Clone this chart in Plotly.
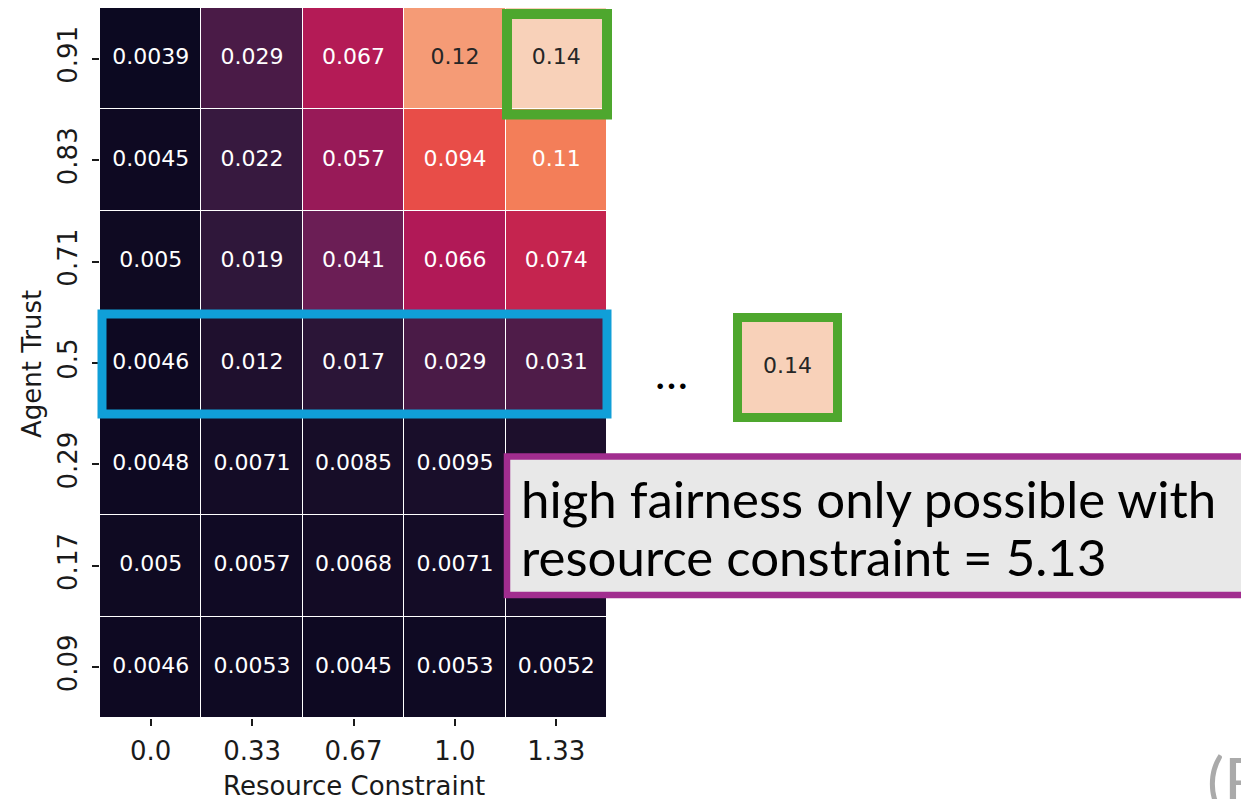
import plotly.graph_objects as go

# ---------------- data ----------------
resource_labels = ["0.0", "0.33", "0.67", "1.0", "1.33"]
trust_labels = ["0.09", "0.17", "0.29", "0.5", "0.71", "0.83", "0.91"]  # bottom -> top
fairness = [
    [0.0046, 0.0053, 0.0045, 0.0053, 0.0052],  # 0.09
    [0.005, 0.0057, 0.0068, 0.0071, 0.0075],   # 0.17
    [0.0048, 0.0071, 0.0085, 0.0095, 0.011],   # 0.29
    [0.0046, 0.012, 0.017, 0.029, 0.031],      # 0.5
    [0.005, 0.019, 0.041, 0.066, 0.074],       # 0.71
    [0.0045, 0.022, 0.057, 0.094, 0.11],       # 0.83
    [0.0039, 0.029, 0.067, 0.12, 0.14],        # 0.91
]
extra_resource = ["5.13"]
extra_trust = ["0.5"]
extra_fairness = [[0.14]]
note_lines = ["high fairness only possible with", "resource constraint = 5.13"]

# ---------------- styling ----------------
W, H = 1249, 799
OFF = 8  # page body margin


def X(px):
    return (px - OFF) / W


def Y(py):
    return 1 - (py - OFF) / H


rocket = [
    [0.0, "#03051a"],
    [1 / 7, "#35193e"],
    [2 / 7, "#701f57"],
    [3 / 7, "#ad1759"],
    [4 / 7, "#e13342"],
    [5 / 7, "#f37651"],
    [6 / 7, "#f6b48f"],
    [1.0, "#faebdd"],
]
ZMIN, ZMAX = 0.0, 0.15
tick_font = dict(family="DejaVu Sans", size=26, color="#1a1a1a")
cell_size = 22

fig = go.Figure()

fig.add_trace(go.Heatmap(
    x=resource_labels, y=trust_labels, z=fairness,
    colorscale=rocket, zmin=ZMIN, zmax=ZMAX, showscale=False,
    xgap=1, ygap=1, hoverinfo="skip",
))

# cell annotations
tx, ty, tt, tc = [], [], [], []
for i, row in enumerate(fairness):
    for j, v in enumerate(row):
        tx.append(resource_labels[j])
        ty.append(trust_labels[i])
        tt.append(f"{v:.2g}")
        tc.append("#262626" if v >= 0.115 else "white")
fig.add_trace(go.Scatter(
    x=tx, y=ty, text=tt, mode="text",
    textfont=dict(family="DejaVu Sans", size=cell_size, color=tc),
    hoverinfo="skip", showlegend=False,
))

# extra cell (resource constraint 5.13)
fig.add_trace(go.Heatmap(
    x=extra_resource, y=extra_trust, z=extra_fairness,
    colorscale=rocket, zmin=ZMIN, zmax=ZMAX, showscale=False,
    xaxis="x2", yaxis="y2", hoverinfo="skip",
))
fig.add_trace(go.Scatter(
    x=extra_resource, y=extra_trust, text=[f"{extra_fairness[0][0]:.2g}"],
    mode="text", textfont=dict(family="DejaVu Sans", size=cell_size, color="#262626"),
    xaxis="x2", yaxis="y2", hoverinfo="skip", showlegend=False,
))

fig.update_layout(
    width=W, height=H,
    margin=dict(l=0, r=0, t=0, b=0),
    paper_bgcolor="white", plot_bgcolor="white",
    showlegend=False,
    xaxis=dict(
        domain=[X(100), X(607)], anchor="y",
        type="category", range=[-0.5, 4.5],
        showgrid=False, zeroline=False, showline=False,
        ticks="outside", ticklen=7, tickwidth=1.5, tickcolor="#1a1a1a",
        tickfont=tick_font, automargin=False, ticklabelstandoff=3,
    ),
    yaxis=dict(
        domain=[Y(718), Y(8)], anchor="x",
        type="category", range=[-0.5, 6.5],
        showgrid=False, zeroline=False, showline=False,
        ticks="outside", ticklen=7, tickwidth=1.5, tickcolor="#1a1a1a",
        tickfont=tick_font, tickangle=-90, automargin=False, ticklabelstandoff=5,
    ),
    xaxis2=dict(domain=[X(737.5), X(837.5)], anchor="y2", visible=False,
                type="category", range=[-0.5, 0.5]),
    yaxis2=dict(domain=[Y(417.5), Y(317.5)], anchor="x2", visible=False,
                type="category", range=[-0.5, 0.5]),
)

shapes = [
    # blue row highlight
    dict(type="rect", xref="paper", yref="paper",
         x0=X(102), x1=X(607), y0=Y(414), y1=Y(314),
         line=dict(color="#109fd8", width=9), layer="above"),
    # green top-right highlight
    dict(type="rect", xref="paper", yref="paper",
         x0=X(507), x1=X(607), y0=Y(114.5), y1=Y(14),
         line=dict(color="#4ea72e", width=10), layer="above"),
    # green extra cell border
    dict(type="rect", xref="paper", yref="paper",
         x0=X(737.5), x1=X(837.5), y0=Y(417.5), y1=Y(317.5),
         line=dict(color="#4ea72e", width=9), layer="above"),
    # purple text box
    dict(type="rect", xref="paper", yref="paper",
         x0=X(507), x1=X(1246), y0=Y(595), y1=Y(456.5),
         line=dict(color="#a12d8f", width=6.5), fillcolor="#e8e8e8", layer="above"),
]
fig.update_layout(shapes=shapes)

note_font = dict(family="Lato", size=51, color="black")
annotations = [
    dict(text="Resource Constraint", xref="paper", yref="paper",
         x=X(353.5), y=Y(786), xanchor="center", yanchor="middle",
         showarrow=False, font=tick_font),
    dict(text="Agent Trust", xref="paper", yref="paper",
         x=X(32), y=Y(364), xanchor="center", yanchor="middle", textangle=-90,
         showarrow=False, font=tick_font),
    dict(text=note_lines[0], xref="paper", yref="paper", x=X(519), y=Y(498),
         xanchor="left", yanchor="middle", showarrow=False, font=note_font),
    dict(text=note_lines[1], xref="paper", yref="paper", x=X(519), y=Y(556),
         xanchor="left", yanchor="middle", showarrow=False, font=note_font),
    dict(text="…", xref="paper", yref="paper", x=X(671), y=Y(372),
         xanchor="center", yanchor="middle", showarrow=False,
         font=dict(family="Lato", size=44, color="black")),
    dict(text="(R", xref="paper", yref="paper", x=X(1205), y=Y(739),
         xanchor="left", yanchor="top", showarrow=False,
         font=dict(family="Lato", size=64, color="#aaaaaa")),
]
fig.update_layout(annotations=annotations)

fig.write_html("out.html")
